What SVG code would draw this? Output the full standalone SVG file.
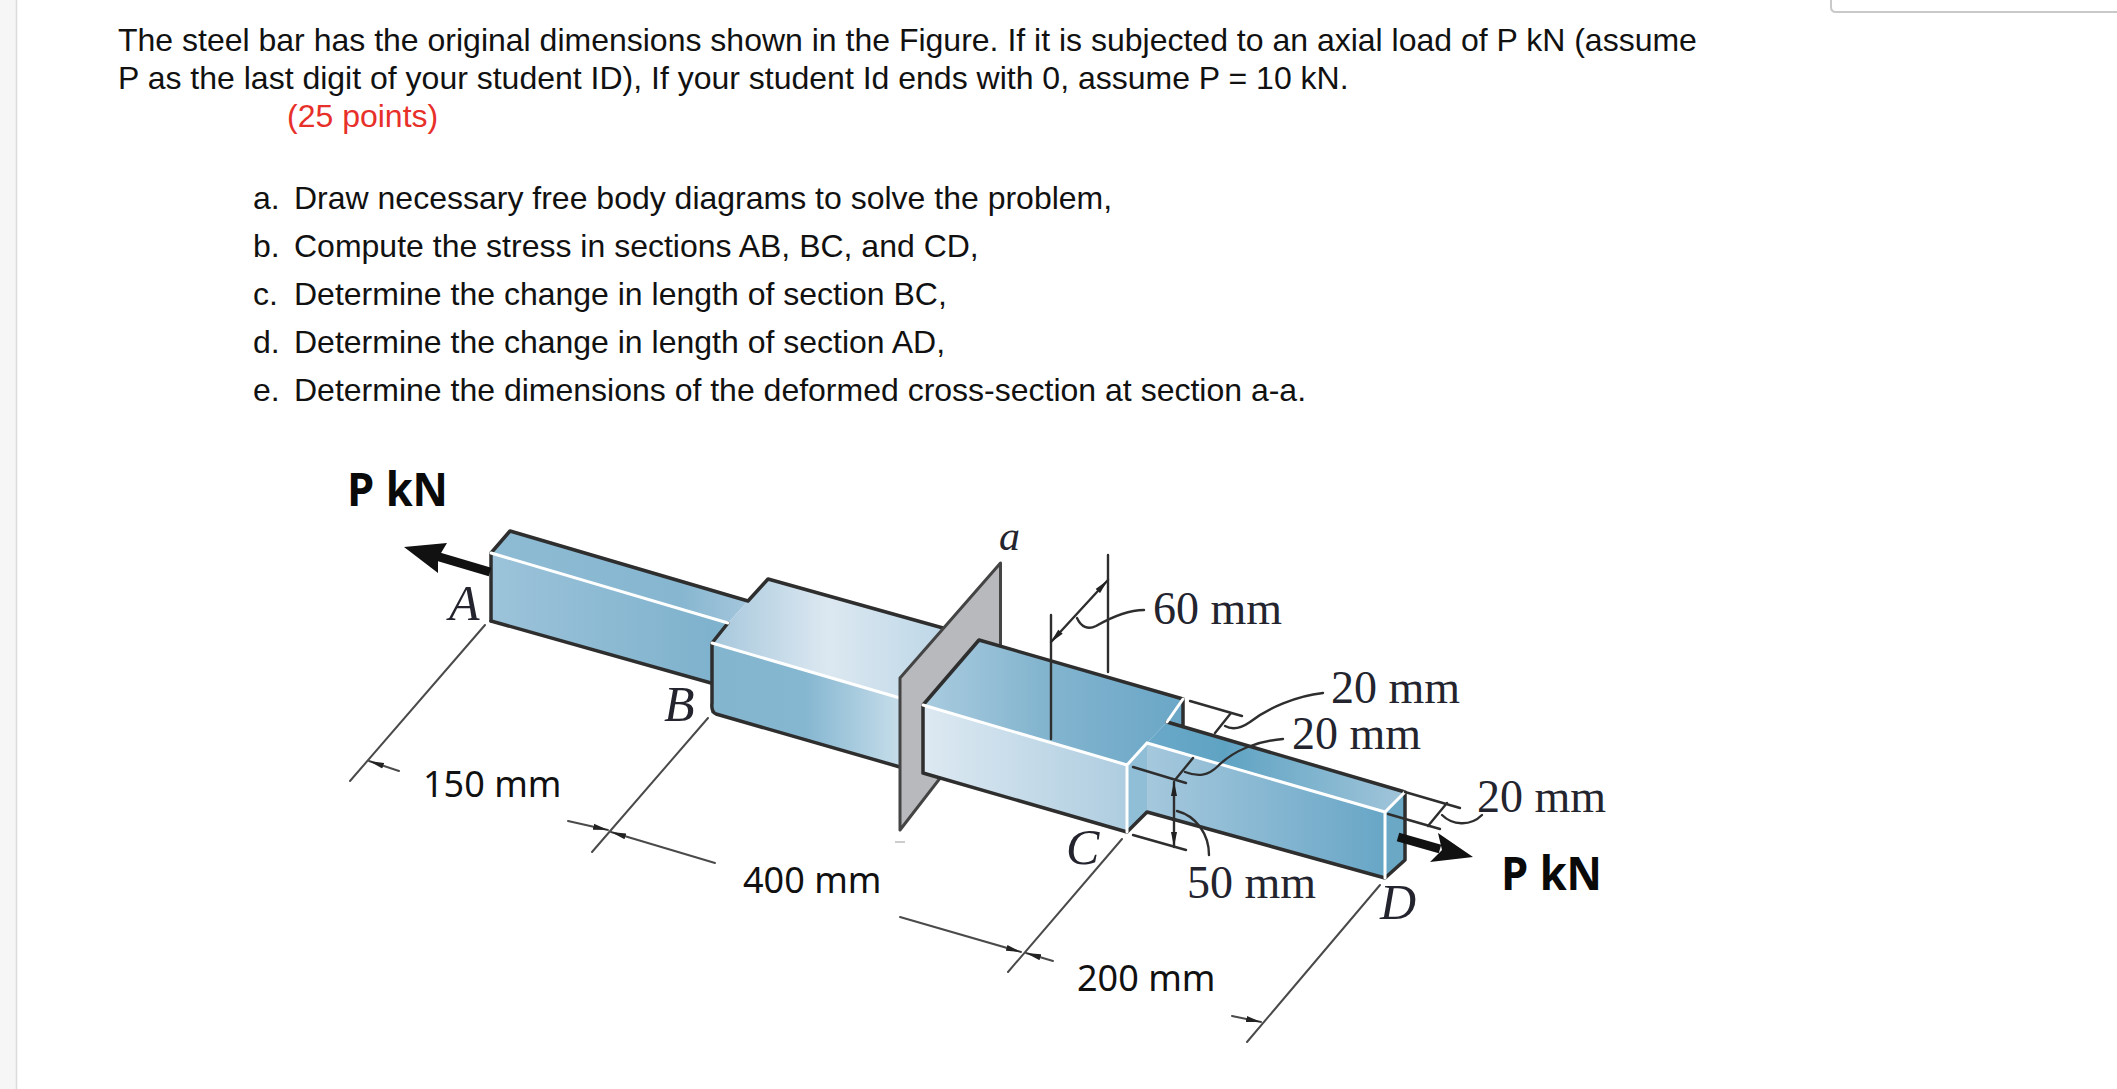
<svg xmlns="http://www.w3.org/2000/svg" width="2117" height="1089" viewBox="0 0 2117 1089">
<style>
.t{font-family:"Liberation Sans",Arial,sans-serif;font-size:32px;fill:#111}
.r{fill:#e8302a}
.s{font-family:"Liberation Serif","Times New Roman",serif;font-size:46px;fill:#23242e}
.i{font-style:italic;font-size:50px}
.c{font-family:"Noto Sans","Open Sans",sans-serif;font-size:36px;fill:#111}
.b{font-family:"Open Sans","Noto Sans",sans-serif;font-size:47px;font-weight:700;fill:#0a0a0a}
.e{fill:none;stroke:#2e2e2e;stroke-width:3.500;stroke-linejoin:round;stroke-linecap:round}
.w{fill:none;stroke:#fff;stroke-width:3;stroke-linecap:round}
.d{fill:none;stroke:#4a4a4a;stroke-width:2;stroke-linecap:round}
.k{fill:none;stroke:#2e2e2e;stroke-width:2.400;stroke-linecap:round}
</style>
<defs>
<marker id="h" markerWidth="16" markerHeight="8" refX="15" refY="4" orient="auto" markerUnits="userSpaceOnUse"><path d="M0 1L15 4L0 7Z" fill="#222"/></marker>
<marker id="hs" markerWidth="16" markerHeight="8" refX="1" refY="4" orient="auto" markerUnits="userSpaceOnUse"><path d="M15 1L0 4L15 7Z" fill="#222"/></marker>
<linearGradient id="abTop" gradientUnits="userSpaceOnUse" x1="490" y1="0" x2="760" y2="0"><stop offset="0" stop-color="#8ebbd4"/><stop offset=".7" stop-color="#86b6d0"/><stop offset="1" stop-color="#a9c9de"/></linearGradient>
<linearGradient id="abFront" gradientUnits="userSpaceOnUse" x1="490" y1="0" x2="712" y2="0"><stop offset="0" stop-color="#9cc3da"/><stop offset="1" stop-color="#7fb2cd"/></linearGradient>
<linearGradient id="bcTop" gradientUnits="userSpaceOnUse" x1="712" y1="0" x2="945" y2="0"><stop offset="0" stop-color="#a6c7dc"/><stop offset=".5" stop-color="#dce8f1"/><stop offset="1" stop-color="#bdd7e7"/></linearGradient>
<linearGradient id="bcFront" gradientUnits="userSpaceOnUse" x1="712" y1="0" x2="900" y2="0"><stop offset="0" stop-color="#84b5cf"/><stop offset=".5" stop-color="#86b7d1"/><stop offset="1" stop-color="#c6ddea"/></linearGradient>
<linearGradient id="cTop" gradientUnits="userSpaceOnUse" x1="925" y1="0" x2="1180" y2="0"><stop offset="0" stop-color="#a9cbdf"/><stop offset=".45" stop-color="#84b5cf"/><stop offset="1" stop-color="#6ba7c7"/></linearGradient>
<linearGradient id="cFront" gradientUnits="userSpaceOnUse" x1="923" y1="0" x2="1127" y2="0"><stop offset="0" stop-color="#dde9f2"/><stop offset="1" stop-color="#aecde0"/></linearGradient>
<linearGradient id="dTop" gradientUnits="userSpaceOnUse" x1="1147" y1="0" x2="1405" y2="0"><stop offset="0" stop-color="#6aa8c8"/><stop offset=".3" stop-color="#5fa3c3"/><stop offset="1" stop-color="#a1c5da"/></linearGradient>
<linearGradient id="dFront" gradientUnits="userSpaceOnUse" x1="1147" y1="0" x2="1385" y2="0"><stop offset="0" stop-color="#a5c8dd"/><stop offset="1" stop-color="#68a6c6"/></linearGradient>
</defs>
<rect width="2117" height="1089" fill="#fff"/>
<g id="page-chrome">
<rect x="0" y="0" width="16" height="1089" fill="#f6f6f6"/>
<line x1="16.500" y1="0" x2="16.500" y2="1089" stroke="#dcdcdc" stroke-width="1.500"/>
<path d="M1831 0V7Q1831 12 1836 12H2117" fill="none" stroke="#c9c9c9" stroke-width="2"/>
</g>
<g id="problem-text">
<text class="t" x="118" y="51">The steel bar has the original dimensions shown in the Figure. If it is subjected to an axial load of P kN (assume</text>
<text class="t" x="118" y="89">P as the last digit of your student ID), If your student Id ends with 0, assume P = 10 kN.</text>
<text class="t r" x="287" y="127">(25 points)</text>
<text class="t" x="253" y="209">a.</text><text class="t" x="294" y="209">Draw necessary free body diagrams to solve the problem,</text>
<text class="t" x="253" y="257">b.</text><text class="t" x="294" y="257">Compute the stress in sections AB, BC, and CD,</text>
<text class="t" x="253" y="305">c.</text><text class="t" x="294" y="305">Determine the change in length of section BC,</text>
<text class="t" x="253" y="353">d.</text><text class="t" x="294" y="353">Determine the change in length of section AD,</text>
<text class="t" x="253" y="401">e.</text><text class="t" x="294" y="401">Determine the dimensions of the deformed cross-section at section a-a.</text>
</g>
<g id="bar-left">
<polygon points="510,531 748,601 728,623 491,553" fill="url(#abTop)"/>
<polygon points="491,553 728,623 712,643 711,683 491,621" fill="url(#abFront)"/>
<polygon points="748,601 768,579 950,630 900,690 900,698 712,643 728,623" fill="url(#bcTop)"/>
<polygon points="712,643 900,698 900,767 711,713" fill="url(#bcFront)"/>
<path class="e" d="M491 621V553L510 531L748 601L768 579L943 628"/>
<path class="e" d="M491 621L711 683"/>
<path class="e" d="M728 623L712 643V703Q711 712 716 714L900 767"/>
<path class="w" d="M491 553L728 623"/>
<path class="w" d="M712 643L900 698"/>
</g>
<g id="plate">
<polygon points="900,678 1000.500,563 1000.500,700 900,830" fill="#b8b9bd" stroke="#444" stroke-width="3" stroke-linejoin="round"/>
<line x1="895" y1="842" x2="905" y2="842" stroke="#bbb" stroke-width="1.500"/>
</g>
<g id="bar-right">
<polygon points="979,640 1182,698 1183,728 1167,722 1147,743 1127,765 923,705" fill="url(#cTop)"/>
<polygon points="1167,722 1405,792 1385,812 1147,743" fill="url(#dTop)"/>
<polygon points="923,705 1127,765 1127,832 923,773" fill="url(#cFront)"/>
<polygon points="1127,765 1147,743 1147,812 1127,832" fill="#8fbed6"/>
<polygon points="1147,743 1385,812 1385,878 1147,812" fill="url(#dFront)"/>
<polygon points="1183,699 1167,722 1183,728" fill="#6ba7c7"/>
<polygon points="1405,792 1385,812 1385,878 1405,860" fill="#6aa8c6"/>
<path class="e" d="M923 773V705L979 640L1183 699V727M1167 722L1405 792V860L1385 878L1147 812L1127 832L923 773"/>
<path class="w" d="M923 705L1127 765L1147 743L1385 812L1405 792M1127 765V832M1385 812V878M1183 699L1167 722"/>
</g>
<g id="connectors">
<path class="d" d="M485 625L350 781"/>
<path class="d" d="M399 771L369 761" marker-end="url(#h)"/>
<path class="d" d="M708 718L592 852"/>
<path class="d" d="M568 821L608 830" marker-end="url(#h)"/>
<path class="d" d="M715 863L611 832" marker-end="url(#h)"/>
<path class="d" d="M1122 839L1008 972"/>
<path class="d" d="M900 917L1021 952" marker-end="url(#h)"/>
<path class="d" d="M1053 961L1026 953" marker-end="url(#h)"/>
<path class="d" d="M1380 885L1247 1042"/>
<path class="d" d="M1232 1016L1261 1022" marker-end="url(#h)"/>
<path class="k" d="M1051 615V739M1108 555V672"/>
<path class="k" d="M1051 642L1108 580" marker-start="url(#hs)" marker-end="url(#h)"/>
<path class="k" d="M1077 618C1081 627 1088 630 1096 626C1110 618 1128 610 1144 610"/>
<path class="k" d="M1190 701L1242 716M1231 713L1215 733"/>
<path class="k" d="M1225 726C1232 730 1240 729 1250 722C1268 708 1296 696 1323 693"/>
<path class="k" d="M1133 767L1186 783M1193 758L1175 780"/>
<path class="k" d="M1185 772C1198 777 1208 776 1218 766C1234 750 1258 741 1283 739"/>
<path class="k" d="M1174 782V847" marker-start="url(#hs)" marker-end="url(#h)"/>
<path class="k" d="M1133 835L1186 850"/>
<path class="k" d="M1177 811C1196 816 1209 834 1209 855"/>
<path class="k" d="M1405 792L1460 808M1388 814L1440 829M1447 803L1428 826"/>
<path class="k" d="M1442 815C1452 825 1470 827 1482 815"/>
</g>
<g id="loads">
<path d="M490 572L436 556" stroke="#111" stroke-width="9" fill="none"/>
<polygon points="404,547 447,543 438,558 438,573" fill="#111"/>
<path d="M1398 837L1440 849" stroke="#111" stroke-width="9" fill="none"/>
<polygon points="1473,857 1438,833 1442,850 1430,862" fill="#111"/>
<text class="b" x="347" y="506" textLength="101" lengthAdjust="spacingAndGlyphs">P kN</text>
<text class="b" x="1501" y="890" textLength="101" lengthAdjust="spacingAndGlyphs">P kN</text>
</g>
<g id="labels">
<text class="s i" x="999" y="550" style="font-size:42px">a</text>
<text class="s i" x="449" y="620">A</text>
<text class="s i" x="664" y="721">B</text>
<text class="s i" x="1066" y="864">C</text>
<text class="s i" x="1380" y="919">D</text>
<text class="s" x="1153" y="624">60 mm</text>
<text class="s" x="1331" y="703">20 mm</text>
<text class="s" x="1292" y="749">20 mm</text>
<text class="s" x="1477" y="812">20 mm</text>
<text class="s" x="1187" y="898">50 mm</text>
<text class="c" x="423" y="797">150 mm</text>
<text class="c" x="743" y="893">400 mm</text>
<text class="c" x="1077" y="991">200 mm</text>
</g>
</svg>
